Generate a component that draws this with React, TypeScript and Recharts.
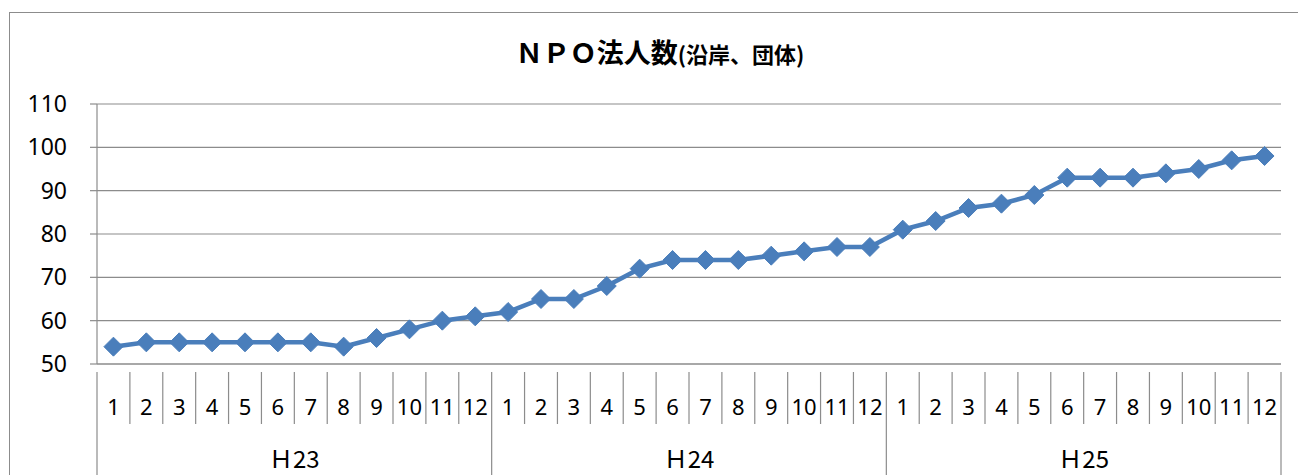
import { ComposedChart, Line, XAxis, YAxis, CartesianGrid } from "recharts";

const years = ["Ｈ23", "Ｈ24", "Ｈ25"];
const months = ["1", "2", "3", "4", "5", "6", "7", "8", "9", "10", "11", "12"];
const npoCount = [
  54, 55, 55, 55, 55, 55, 55, 54, 56, 58, 60, 61,
  62, 65, 65, 68, 72, 74, 74, 74, 75, 76, 77, 77,
  81, 83, 86, 87, 89, 93, 93, 93, 94, 95, 97, 98,
];
const yTicks = [50, 60, 70, 80, 90, 100, 110];

const rows = npoCount.map((v, i) => ({
  key: `${years[Math.floor(i / 12)]}-${months[i % 12]}`,
  month: months[i % 12],
  year: years[Math.floor(i / 12)],
  value: v,
}));

const W = 1298;
const H = 475;
const LEFT = 97;
const RIGHT = 17;
const TOP = 104;
const XAXIS_H = 111;
const BW = (W - LEFT - RIGHT) / rows.length;
const GRAY = "#8c8c8c";
const BLUE = "#4a7ebb";
const NUM_FONT = "'Noto Sans', sans-serif";
const CJK_FONT = "'Noto Sans CJK JP', sans-serif";

function MonthTick(props: any) {
  const { x, y, index } = props;
  const row = rows[index];
  const left = x - BW / 2;
  const axisY = y;
  const isGroupStart = index % 12 === 0;
  const isLast = index === rows.length - 1;
  return (
    <g>
      <line x1={left} x2={left} y1={axisY} y2={isGroupStart ? axisY + 104 : axisY + 52} stroke={GRAY} strokeWidth={1.2} />
      {isLast && (
        <line x1={x + BW / 2} x2={x + BW / 2} y1={axisY} y2={axisY + 104} stroke={GRAY} strokeWidth={1.2} />
      )}
      <text x={x} y={axisY + 43} textAnchor="middle" fontSize={22} fontFamily={NUM_FONT} fill="#000">
        {row.month}
      </text>
      {index % 12 === 6 && (
        <text x={left} y={axisY + 96} textAnchor="middle" fontSize={24} fontFamily={CJK_FONT} fill="#000">
          {row.year}
        </text>
      )}
    </g>
  );
}

function Diamond(props: any) {
  const { cx, cy } = props;
  if (cx == null || cy == null) return null;
  const r = 9.5;
  return (
    <polygon
      points={`${cx},${cy - r} ${cx + r},${cy} ${cx},${cy + r} ${cx - r},${cy}`}
      fill={BLUE}
      stroke={BLUE}
      strokeWidth={1}
    />
  );
}

export default function App() {
  return (
    <div style={{ position: "absolute", left: 0, top: 0, width: W, height: H, background: "#fff", overflow: "hidden" }}>
      <div
        style={{
          position: "absolute",
          left: 9,
          top: 12,
          width: W + 20,
          height: H + 20,
          border: `1px solid ${GRAY}`,
        }}
      />
      <div style={{ position: "absolute", left: 0, top: 0 }}>
        <ComposedChart width={W} height={H} data={rows} margin={{ top: TOP, right: RIGHT, left: 0, bottom: 0 }}>
          <text x={660} y={63} textAnchor="middle" fontFamily={CJK_FONT} fontWeight="bold" fill="#000">
            <tspan fontSize={27}>ＮＰＯ法人数</tspan>
            <tspan fontSize={22}>(沿岸、団体)</tspan>
          </text>
          <CartesianGrid vertical={false} stroke={GRAY} strokeWidth={1.2} />
          <XAxis
            dataKey="key"
            height={XAXIS_H}
            interval={0}
            padding={{ left: BW / 2, right: BW / 2 }}
            tickLine={false}
            axisLine={{ stroke: GRAY, strokeWidth: 1.2 }}
            tick={<MonthTick />}
          />
          <YAxis
            width={LEFT}
            domain={[50, 110]}
            ticks={yTicks}
            interval={0}
            tickSize={7}
            tickMargin={23}
            tickLine={{ stroke: GRAY, strokeWidth: 1.2 }}
            axisLine={{ stroke: GRAY, strokeWidth: 1.2 }}
            tick={{ fontSize: 23, fontFamily: NUM_FONT, fill: "#000" }}
          />
          <Line
            dataKey="value"
            stroke={BLUE}
            strokeWidth={4.5}
            dot={<Diamond />}
            activeDot={false}
            isAnimationActive={false}
          />
        </ComposedChart>
      </div>
    </div>
  );
}
